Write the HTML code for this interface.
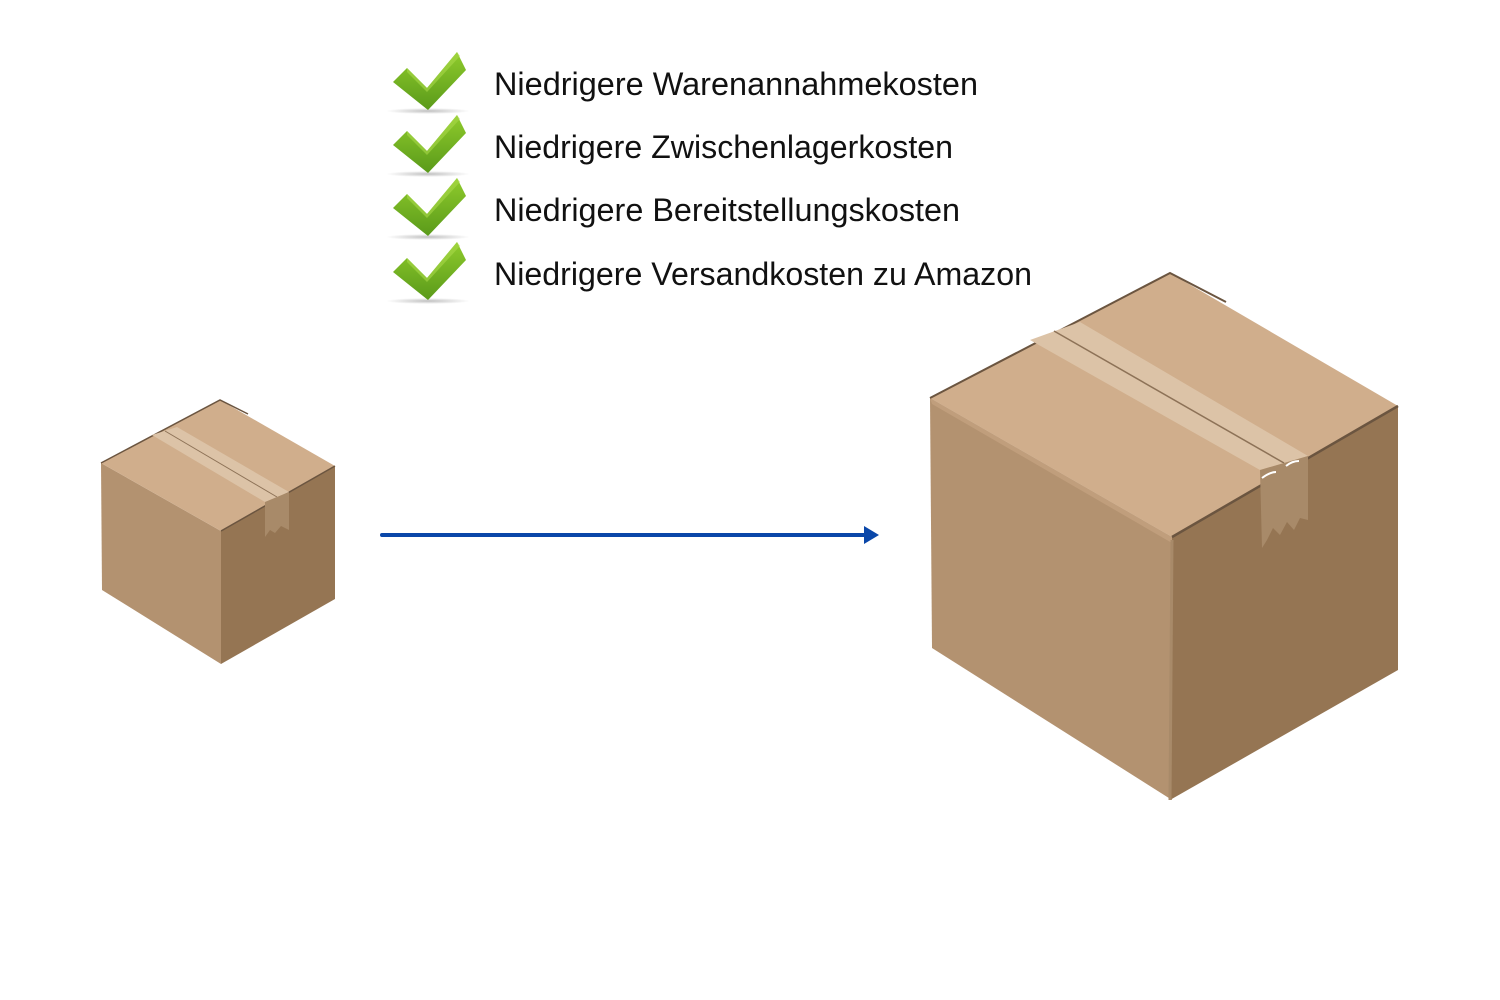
<!DOCTYPE html>
<html><head><meta charset="utf-8"><style>html,body{margin:0;padding:0;background:#fff}svg{display:block}</style></head>
<body>
<svg width="1500" height="1000" viewBox="0 0 1500 1000" xmlns="http://www.w3.org/2000/svg">
<defs>
<linearGradient id="ck" x1="0" y1="0" x2="0" y2="1"><stop offset="0" stop-color="#8fcb2c"/><stop offset="1" stop-color="#5a9a1a"/></linearGradient>
<radialGradient id="sh" cx="0.5" cy="0.5" r="0.5"><stop offset="0" stop-color="#000" stop-opacity="0.25"/><stop offset="1" stop-color="#000" stop-opacity="0"/></radialGradient>
<g id="check">
<ellipse cx="428" cy="111" rx="42" ry="3" fill="url(#sh)"/>
<polygon points="393,82 407,68 427,88 457,52 466,70 428,110" fill="url(#ck)"/>
<polygon points="407,68 427,88 457,52 460,56 427,92 407,72" fill="#a8d94a" opacity="0.6"/>
</g>
</defs>
<use href="#check"/>
<use href="#check" y="63"/>
<use href="#check" y="126"/>
<use href="#check" y="190"/>
<g font-family="'Liberation Sans',sans-serif" font-size="32" fill="#111" font-weight="normal">
<text x="494" y="95" textLength="484" lengthAdjust="spacingAndGlyphs">Niedrigere Warenannahmekosten</text>
<text x="494" y="158" textLength="459" lengthAdjust="spacingAndGlyphs">Niedrigere Zwischenlagerkosten</text>
<text x="494" y="221" textLength="466" lengthAdjust="spacingAndGlyphs">Niedrigere Bereitstellungskosten</text>
<text x="494" y="285" textLength="538" lengthAdjust="spacingAndGlyphs">Niedrigere Versandkosten zu Amazon</text>
</g>
<!-- small box -->
<polygon points="101,463 221,531 221,664 102,590" fill="#b39270"/>
<polygon points="221,531 335,466 335,599 221,664" fill="#957553"/>
<polygon points="101,463 220,400 335,466 221,531" fill="#d0ae8c"/>
<polyline points="101,463 220,400 248,414" fill="none" stroke="#6b5540" stroke-width="1.5"/>
<line x1="221" y1="531" x2="335" y2="466" stroke="#6b5540" stroke-width="1.5"/>
<polygon points="152,435 177,427 289,492 265,502" fill="#dcc3a7"/>
<line x1="165" y1="431" x2="277" y2="497" stroke="#8d7257" stroke-width="1"/>
<polygon points="265,502 289,492 289,530 281,526 275,533 270,530 265,537" fill="#a88a69"/>
<!-- arrow -->
<line x1="382" y1="535" x2="868" y2="535" stroke="#0a47a9" stroke-width="4" stroke-linecap="round"/>
<polygon points="864,526 879,535 864,544" fill="#0a47a9"/>
<!-- big box -->
<polygon points="930,398 1172,537 1172,800 932,648" fill="#b39270"/>
<polygon points="1172,537 1398,406 1398,670 1170,800" fill="#957553"/>
<polygon points="930,398 1170,273 1398,406 1172,537" fill="#d0ae8c"/>
<polygon points="930,398 1172,537 1172,543 932,404" fill="#c09e7c"/>
<polyline points="930,398 1170,273 1226,302" fill="none" stroke="#6b5540" stroke-width="2"/>
<line x1="1172" y1="537" x2="1398" y2="406" stroke="#6b5540" stroke-width="2.5"/>
<line x1="1170" y1="800" x2="1172" y2="540" stroke="#a88a69" stroke-width="3"/>
<polygon points="1030,340 1080,322 1308,456 1260,470" fill="#dcc3a7"/>
<line x1="1054" y1="331" x2="1284" y2="463" stroke="#8d7257" stroke-width="1.5"/>
<polygon points="1260,470 1308,456 1308,520 1300,518 1294,530 1287,522 1280,535 1273,528 1267,540 1262,548" fill="#a88a69"/>
<path d="M1262,478 q8,-6 14,-6 M1286,466 q6,-5 13,-5" stroke="#fff" stroke-width="2" fill="none"/>
</svg>
</body></html>
